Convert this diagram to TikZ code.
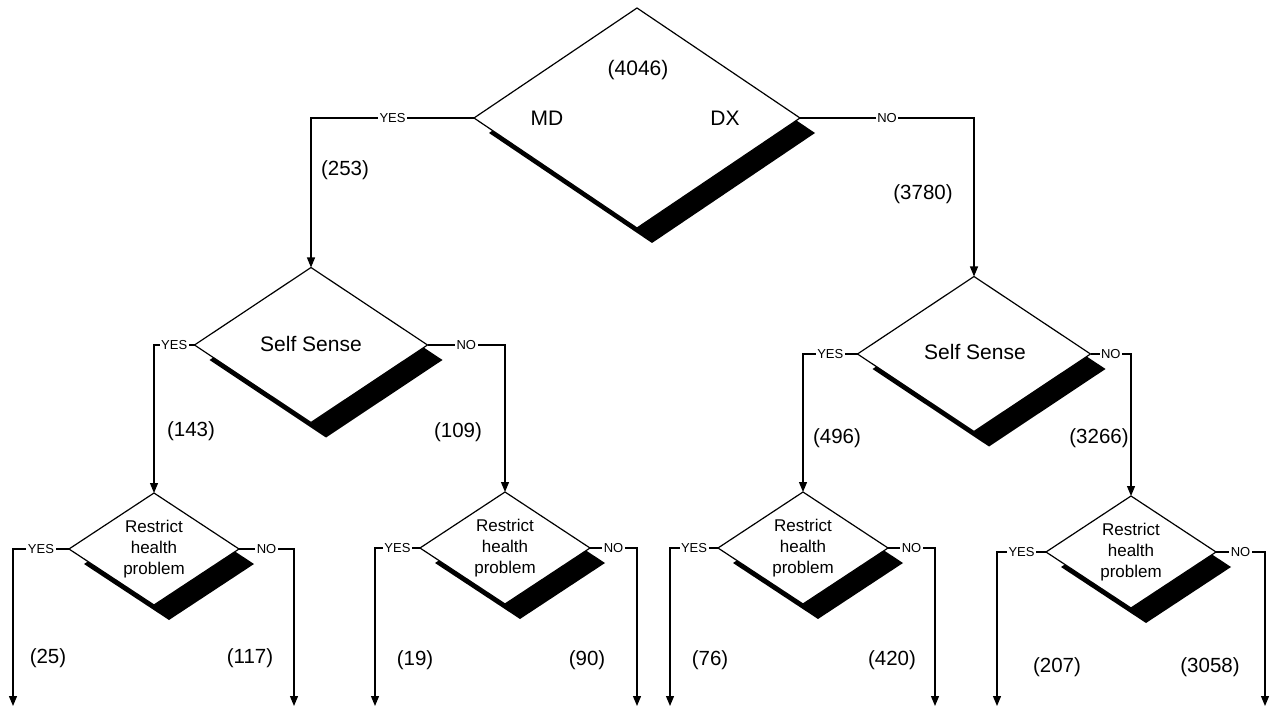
\documentclass[tikz,border=0pt]{standalone}
\usepackage{fontspec}
\setmainfont{Liberation Sans}
\usetikzlibrary{shapes.geometric,arrows.meta,shadows}
\begin{document}
\begin{tikzpicture}[x=1pt,y=-1pt,
  dia/.style={shape=diamond, draw=black, fill=white, line width=1.2pt, inner sep=0pt, outer sep=0pt,
    drop shadow={shadow xshift=15pt, shadow yshift=-15pt, fill=black, opacity=1}},
  bigdia/.style={dia, minimum width=326pt, minimum height=220pt},
  ssdia/.style={dia, minimum width=233pt, minimum height=155pt},
  rdia/.style={dia, minimum width=170pt, minimum height=112pt},
  conn/.style={line width=1.2pt},
  arr/.style={conn, -{Triangle[length=10pt,width=8pt]}},
  yn/.style={fill=white, inner sep=1.5pt, font=\fontsize{13}{13}\selectfont},
  num/.style={font=\fontsize{20.5}{24}\selectfont, inner sep=0pt},
  big/.style={font=\fontsize{21}{24}\selectfont, inner sep=0pt},
  small/.style={font=\fontsize{17}{21}\selectfont, align=center, inner sep=0pt},
]
\useasboundingbox (0,0) rectangle (1273,708);

% diamonds
\node[bigdia] (top) at (637,118) {};
\node[ssdia] (ssl) at (311,345) {};
\node[ssdia] (ssr) at (974,354) {};
\node[rdia] (r1) at (154,549) {};
\node[rdia] (r2) at (505,548) {};
\node[rdia] (r3) at (803,548) {};
\node[rdia] (r4) at (1131,552) {};

% texts in diamonds
\node[big] (t4046) at (638,70) {(4046)};
\node[big] (tmd) at (547,118) {MD};
\node[big] (tdx) at (725,118) {DX};
\node[big] (tssl) at (311,344) {Self Sense};
\node[big] (tssr) at (975,352) {Self Sense};
\node[small] (tr1) at (r1) {Restrict\\health\\problem};
\node[small] (tr2) at (r2) {Restrict\\health\\problem};
\node[small] (tr3) at (r3) {Restrict\\health\\problem};
\node[small] (tr4) at (r4) {Restrict\\health\\problem};

% free ends
\coordinate (e1) at (13,706);
\coordinate (e2) at (294,706);
\coordinate (e3) at (375,706);
\coordinate (e4) at (637,706);
\coordinate (e5) at (670,706);
\coordinate (e6) at (935,706);
\coordinate (e7) at (997,706);
\coordinate (e8) at (1265,706);

% connectors
\draw[arr] (top.west) -- node[yn]{YES} (top.west -| ssl.north) -- (ssl.north);
\draw[arr] (top.east) -- node[yn]{NO} (top.east -| ssr.north) -- (ssr.north);
\draw[arr] (ssl.west) -- node[yn]{YES} (ssl.west -| r1.north) -- (r1.north);
\draw[arr] (ssl.east) -- node[yn]{NO} (ssl.east -| r2.north) -- (r2.north);
\draw[arr] (ssr.west) -- node[yn]{YES} (ssr.west -| r3.north) -- (r3.north);
\draw[arr] (ssr.east) -- node[yn]{NO} (ssr.east -| r4.north) -- (r4.north);
\draw[arr] (r1.west) -- node[yn]{YES} (r1.west -| e1) -- (e1);
\draw[arr] (r1.east) -- node[yn]{NO} (r1.east -| e2) -- (e2);
\draw[arr] (r2.west) -- node[yn]{YES} (r2.west -| e3) -- (e3);
\draw[arr] (r2.east) -- node[yn]{NO} (r2.east -| e4) -- (e4);
\draw[arr] (r3.west) -- node[yn]{YES} (r3.west -| e5) -- (e5);
\draw[arr] (r3.east) -- node[yn]{NO} (r3.east -| e6) -- (e6);
\draw[arr] (r4.west) -- node[yn]{YES} (r4.west -| e7) -- (e7);
\draw[arr] (r4.east) -- node[yn]{NO} (r4.east -| e8) -- (e8);

% counts
\node[num] (n253) at (345,170) {(253)};
\node[num] (n3780) at (923,194) {(3780)};
\node[num] (n143) at (191,431) {(143)};
\node[num] (n109) at (458,432) {(109)};
\node[num] (n496) at (837,438) {(496)};
\node[num] (n3266) at (1099,438) {(3266)};
\node[num] (n25) at (48,658) {(25)};
\node[num] (n117) at (250,658) {(117)};
\node[num] (n19) at (415,660) {(19)};
\node[num] (n90) at (587,660) {(90)};
\node[num] (n76) at (710,660) {(76)};
\node[num] (n420) at (892,660) {(420)};
\node[num] (n207) at (1057,667) {(207)};
\node[num] (n3058) at (1210,667) {(3058)};
\end{tikzpicture}
\end{document}
